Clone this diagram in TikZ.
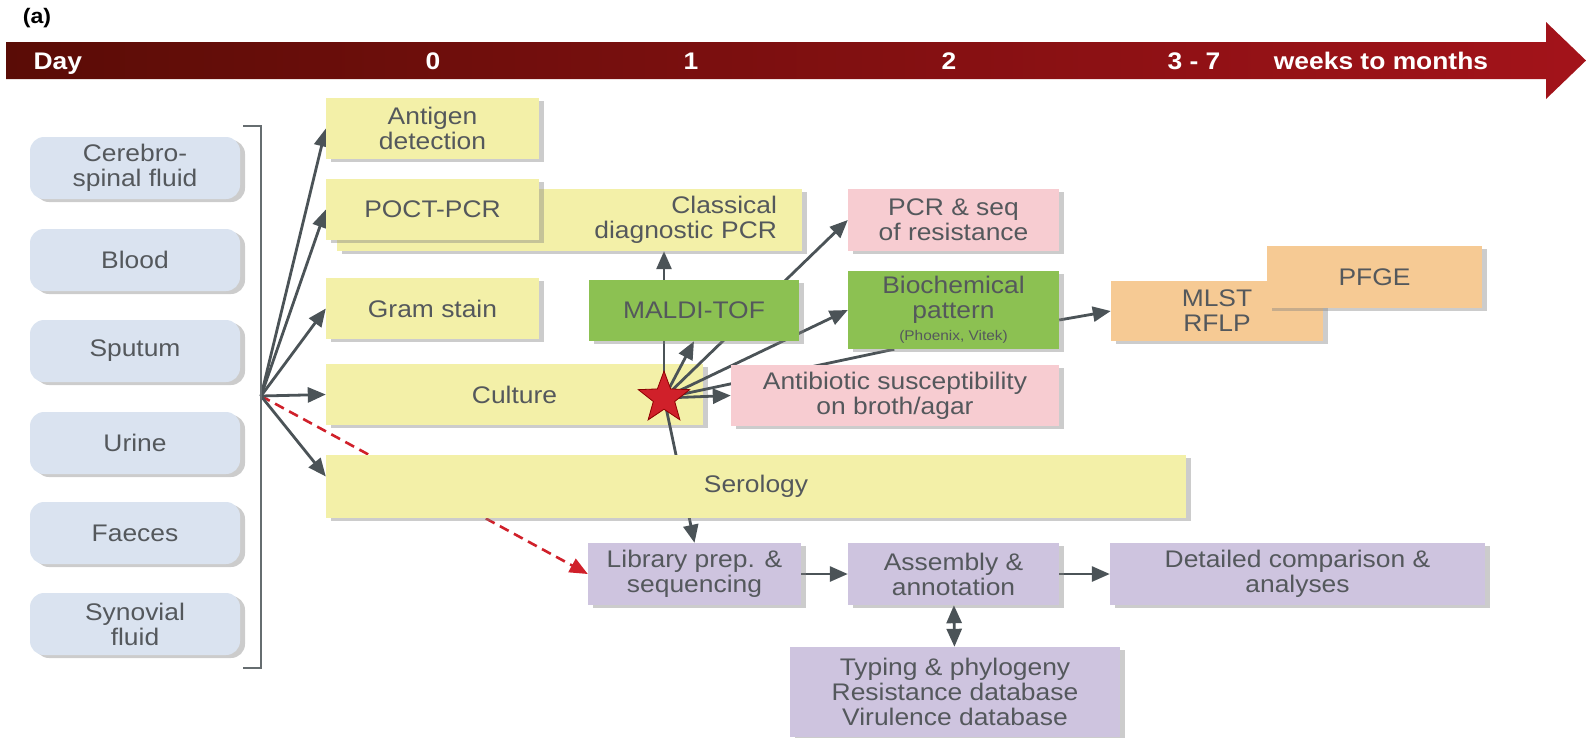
\documentclass[tikz,border=0pt]{standalone}
\usepackage{fontspec}
\setmainfont{Liberation Sans}[FakeStretch=1.1]
\usetikzlibrary{arrows.meta,shapes.geometric,shadows,calc}
\definecolor{barL}{HTML}{5A0C06}
\definecolor{barR}{HTML}{A3131A}
\definecolor{sampleC}{HTML}{DAE3F0}
\definecolor{yelC}{HTML}{F3F0A8}
\definecolor{grnC}{HTML}{8CC152}
\definecolor{pnkC}{HTML}{F7CCD1}
\definecolor{orgC}{HTML}{F6CA94}
\definecolor{prpC}{HTML}{CEC4DF}
\definecolor{txtC}{HTML}{54585C}
\definecolor{lineC}{HTML}{4B5357}
\definecolor{redC}{HTML}{D0202A}
\pgfdeclarelayer{bottom}
\pgfdeclarelayer{lines}
\pgfdeclarelayer{top}
\pgfsetlayers{bottom,lines,main,top}
\tikzset{
  every node/.style={font=\fontsize{24}{25}\selectfont, text=txtC},
  box/.style={inner sep=0pt, align=center,
    drop shadow={shadow xshift=5pt, shadow yshift=-3pt, fill=black!50, opacity=0.4}},
  sample/.style={box, fill=sampleC, rounded corners=14pt,
    minimum width=210pt, minimum height=62pt},
  ybox/.style={box, fill=yelC},
  gbox/.style={box, fill=grnC},
  pbox/.style={box, fill=pnkC},
  obox/.style={box, fill=orgC},
  vbox/.style={box, fill=prpC},
  daylbl/.style={text=white, font=\fontsize{24}{25}\selectfont\bfseries},
  arr/.style={lineC, line width=2.8pt, -{Triangle[length=18pt,width=15pt]}},
  dblarr/.style={lineC, line width=2.8pt, {Triangle[length=18pt,width=15pt]}-{Triangle[length=18pt,width=15pt]}},
  redarr/.style={redC, line width=2.6pt, dash pattern=on 10pt off 6pt,
    -{Triangle[length=18pt,width=15pt]}}
}
\begin{document}
\begin{tikzpicture}[x=1pt,y=-1pt]
  \useasboundingbox (0,0) rectangle (1586,737);
  % time line
  \shade[left color=barL, right color=barR]
    (6,42) -- (1546,42) -- (1546,22) -- (1586,60.5) -- (1546,99) -- (1546,79) -- (6,79) -- cycle;
  \node[font=\fontsize{21}{22}\selectfont\bfseries, text=black] (panel) at (37,18) {(a)};
  \node[daylbl, anchor=base west] (day) at (30,69) {Day};
  \node[daylbl, anchor=base] (d0) at (433,69) {0};
  \node[daylbl, anchor=base] (d1) at (691,69) {1};
  \node[daylbl, anchor=base] (d2) at (949,69) {2};
  \node[daylbl, anchor=base] (d37) at (1194,69) {3 - 7};
  \node[daylbl, anchor=base] (dweeks) at (1381,69) {weeks to months};
  % samples
  \foreach \name/\txt/\y in {csf/{Cerebro-\\spinal fluid}/168, blood/Blood/260,
      sputum/Sputum/351, urine/Urine/443, faeces/Faeces/533, synovial/{Synovial\\fluid}/624}
    \node[sample] (\name) at (135,\y) {\txt};
  \draw[lineC!85, line width=2pt] (243,126) -| (261,668) -- (243,668);
  \coordinate (fan) at (261,396);
  % methods
  \begin{pgfonlayer}{bottom}
    \node[ybox, minimum width=377pt, minimum height=61pt] (culture) at (514.5,394.5) {Culture};
  \end{pgfonlayer}
  \node[ybox, minimum width=213pt, minimum height=61pt] (antigen) at (432.5,128.5) {Antigen\\detection};
  \node[ybox, text width=415pt, minimum height=62pt, align=right, inner xsep=25pt] (classical)
    at (569.5,220) {Classical\\diagnostic PCR};
  \node[ybox, minimum width=213pt, minimum height=61pt] (poct) at (432.5,209.5) {POCT-PCR};
  \node[ybox, minimum width=213pt, minimum height=61pt] (gram) at (432.5,308.5) {Gram stain};
  \node[ybox, minimum width=860pt, minimum height=63pt] (sero) at (756,486.5) {Serology};
  \node[gbox, minimum width=210pt, minimum height=61pt] (maldi) at (694,310.5) {MALDI-TOF};
  \node[gbox, minimum width=211pt, minimum height=78pt] (biochem) at (953.5,310)
    {Biochemical\\pattern\\[-3pt]{\fontsize{14}{15}\selectfont (Phoenix, Vitek)}};
  \node[pbox, minimum width=211pt, minimum height=62pt] (pcrseq) at (953.5,220) {PCR \& seq\\of resistance};
  \node[pbox, minimum width=328pt, minimum height=61pt] (antibio) at (895,395.5)
    {Antibiotic susceptibility\\on broth/agar};
  \node[obox, minimum width=212pt, minimum height=60pt] (mlst) at (1217,311) {MLST\\RFLP};
  \node[obox, minimum width=215pt, minimum height=62pt] (pfge) at (1374.5,277) {PFGE};
  % sequencing
  \node[vbox, minimum width=213pt, minimum height=62pt] (lib) at (694.5,574) {Library prep. \&\\sequencing};
  \node[vbox, minimum width=211pt, minimum height=62pt] (assembly) at (953.5,574) {Assembly \&\\annotation};
  \node[vbox, minimum width=375pt, minimum height=62pt] (detail) at (1297.5,574)
    {Detailed comparison \&\\analyses};
  \node[vbox, minimum width=330pt, minimum height=90pt] (typing) at (955,692)
    {Typing \& phylogeny\\Resistance database\\Virulence database};
  \begin{pgfonlayer}{top}
    \node[star, star points=5, star point ratio=2.4, fill=redC, draw=red!55!black,
      line width=0.8pt, minimum size=54pt, inner sep=0pt] (hub) at (664,398) {};
  \end{pgfonlayer}
  % connectors
  \begin{pgfonlayer}{lines}
    \draw[redarr] (fan) -- (lib.west);
    \foreach \t in {antigen,poct,gram,culture}
      \draw[arr] (fan) -- (\t.west);
    \draw[arr] (fan) -- ([yshift=10pt]sero.west);
    \draw[arr] (hub.center) -- (hub.center |- classical.south);
    \draw[arr] (hub.center) -- (maldi.south);
    \draw[arr] (hub.center) -- (pcrseq.west);
    \draw[arr] (hub.center) -- (biochem.west);
    \draw[arr] (hub.center) -- (antibio.west);
    \draw[lineC, line width=2.8pt] (hub.center) -- ($(biochem.south west)!0.22!(biochem.south east)$);
    \draw[arr] (hub.center) -- (lib.north);
    \draw[arr] ([yshift=-10pt]biochem.east) -- (mlst.west);
    \draw[arr] (lib) -- (assembly);
    \draw[arr] (assembly) -- (detail);
    \draw[dblarr] (assembly) -- (typing);
  \end{pgfonlayer}
\end{tikzpicture}
\end{document}
